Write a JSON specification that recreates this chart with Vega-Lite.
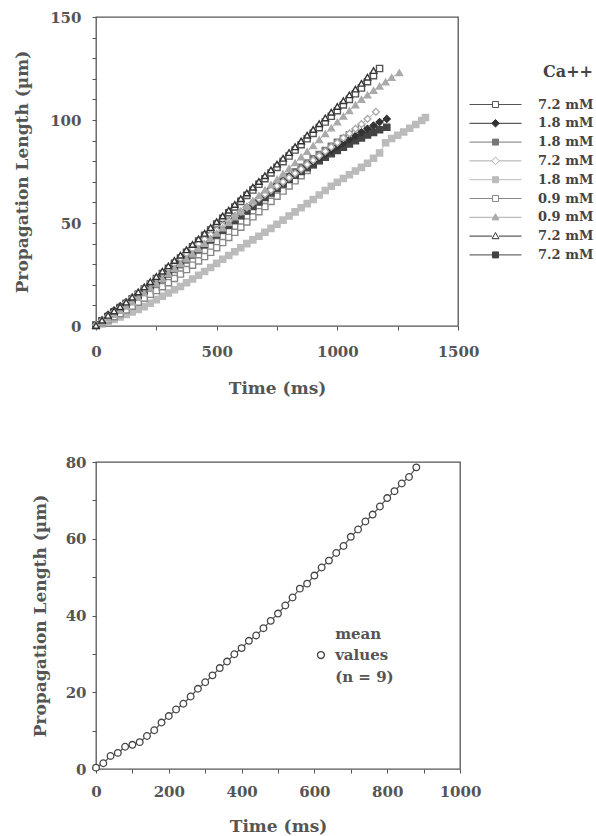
{
  "$schema": "https://vega.github.io/schema/vega-lite/v6.json",
  "background": "white",
  "padding": {"left": 13, "top": 9, "right": 0, "bottom": 0},
  "spacing": 57,
  "config": {
    "view": {"stroke": "#555", "strokeWidth": 1.3},
    "axis": {"domain": false, "grid": false, "tickColor": "#555", "tickWidth": 1, "tickSize": 4,
      "labelFont": "DejaVu Serif", "labelFontWeight": "bold", "labelFontSize": 15, "labelColor": "#555",
      "titleFont": "DejaVu Serif", "titleFontWeight": "bold", "titleFontSize": 17, "titleColor": "#555",
      "labelFlush": false, "labelOverlap": false},
    "legend": {"labelFont": "DejaVu Serif", "labelFontWeight": "bold", "titleFont": "DejaVu Serif", "titleFontWeight": "bold", "padding": 0}
  },
  "datasets": {
    "top": [
      {"s":"s1","t":0,"y":0.5},{"s":"s1","t":25,"y":2.5},{"s":"s1","t":50,"y":4.5},{"s":"s1","t":75,"y":6.8},{"s":"s1","t":100,"y":9.0},{"s":"s1","t":125,"y":11.0},{"s":"s1","t":150,"y":13.2},{"s":"s1","t":175,"y":15.5},{"s":"s1","t":200,"y":18.0},{"s":"s1","t":225,"y":20.4},{"s":"s1","t":250,"y":23.0},{"s":"s1","t":275,"y":25.5},{"s":"s1","t":300,"y":28.0},{"s":"s1","t":325,"y":30.4},{"s":"s1","t":350,"y":33.0},{"s":"s1","t":375,"y":35.8},{"s":"s1","t":400,"y":38.5},{"s":"s1","t":425,"y":41.2},{"s":"s1","t":450,"y":44.0},{"s":"s1","t":475,"y":46.6},{"s":"s1","t":500,"y":49.5},{"s":"s1","t":525,"y":52.3},{"s":"s1","t":550,"y":55.0},{"s":"s1","t":575,"y":57.8},{"s":"s1","t":600,"y":60.5},{"s":"s1","t":625,"y":63.4},{"s":"s1","t":650,"y":66.0},{"s":"s1","t":675,"y":68.8},{"s":"s1","t":700,"y":71.5},{"s":"s1","t":725,"y":74.3},{"s":"s1","t":750,"y":77.0},{"s":"s1","t":775,"y":79.8},{"s":"s1","t":800,"y":82.5},{"s":"s1","t":825,"y":85.4},{"s":"s1","t":850,"y":88.0},{"s":"s1","t":875,"y":90.9},{"s":"s1","t":900,"y":93.5},{"s":"s1","t":925,"y":96.3},{"s":"s1","t":950,"y":99.0},{"s":"s1","t":975,"y":101.8},{"s":"s1","t":1000,"y":104.5},{"s":"s1","t":1025,"y":107.3},{"s":"s1","t":1050,"y":110.0},{"s":"s1","t":1075,"y":112.7},{"s":"s1","t":1100,"y":115.5},{"s":"s1","t":1125,"y":118.6},{"s":"s1","t":1150,"y":121.5},{"s":"s1","t":1175,"y":125.0},
      {"s":"s2","t":0,"y":0.5},{"s":"s2","t":25,"y":3.0},{"s":"s2","t":50,"y":5.5},{"s":"s2","t":75,"y":7.6},{"s":"s2","t":100,"y":9.6},{"s":"s2","t":125,"y":11.6},{"s":"s2","t":150,"y":13.8},{"s":"s2","t":175,"y":16.0},{"s":"s2","t":200,"y":18.3},{"s":"s2","t":225,"y":20.6},{"s":"s2","t":250,"y":23.0},{"s":"s2","t":275,"y":25.4},{"s":"s2","t":300,"y":27.8},{"s":"s2","t":325,"y":30.2},{"s":"s2","t":350,"y":32.6},{"s":"s2","t":375,"y":35.0},{"s":"s2","t":400,"y":37.3},{"s":"s2","t":425,"y":39.6},{"s":"s2","t":450,"y":41.9},{"s":"s2","t":475,"y":44.2},{"s":"s2","t":500,"y":46.5},{"s":"s2","t":525,"y":48.8},{"s":"s2","t":550,"y":51.0},{"s":"s2","t":575,"y":53.2},{"s":"s2","t":600,"y":55.4},{"s":"s2","t":625,"y":57.6},{"s":"s2","t":650,"y":59.8},{"s":"s2","t":675,"y":62.0},{"s":"s2","t":700,"y":64.2},{"s":"s2","t":725,"y":66.4},{"s":"s2","t":750,"y":68.5},{"s":"s2","t":775,"y":70.6},{"s":"s2","t":800,"y":72.6},{"s":"s2","t":825,"y":74.5},{"s":"s2","t":850,"y":76.3},{"s":"s2","t":875,"y":78.0},{"s":"s2","t":900,"y":79.8},{"s":"s2","t":925,"y":81.6},{"s":"s2","t":950,"y":83.4},{"s":"s2","t":975,"y":85.2},{"s":"s2","t":1000,"y":87.0},{"s":"s2","t":1025,"y":88.8},{"s":"s2","t":1050,"y":90.6},{"s":"s2","t":1075,"y":92.3},{"s":"s2","t":1100,"y":94.0},{"s":"s2","t":1125,"y":95.7},{"s":"s2","t":1150,"y":97.3},{"s":"s2","t":1175,"y":99.0},{"s":"s2","t":1205,"y":100.5},
      {"s":"s3","t":0,"y":0.4},{"s":"s3","t":25,"y":2.2},{"s":"s3","t":50,"y":4.0},{"s":"s3","t":75,"y":5.8},{"s":"s3","t":100,"y":7.6},{"s":"s3","t":125,"y":9.6},{"s":"s3","t":150,"y":11.6},{"s":"s3","t":175,"y":13.8},{"s":"s3","t":200,"y":16.0},{"s":"s3","t":225,"y":18.2},{"s":"s3","t":250,"y":20.5},{"s":"s3","t":275,"y":22.8},{"s":"s3","t":300,"y":25.1},{"s":"s3","t":325,"y":27.4},{"s":"s3","t":350,"y":29.7},{"s":"s3","t":375,"y":32.0},{"s":"s3","t":400,"y":34.4},{"s":"s3","t":425,"y":36.8},{"s":"s3","t":450,"y":39.2},{"s":"s3","t":475,"y":41.6},{"s":"s3","t":500,"y":44.0},{"s":"s3","t":525,"y":46.4},{"s":"s3","t":550,"y":48.8},{"s":"s3","t":575,"y":51.2},{"s":"s3","t":600,"y":53.6},{"s":"s3","t":625,"y":56.0},{"s":"s3","t":650,"y":58.4},{"s":"s3","t":675,"y":60.8},{"s":"s3","t":700,"y":63.2},{"s":"s3","t":725,"y":65.6},{"s":"s3","t":750,"y":68.0},{"s":"s3","t":775,"y":70.3},{"s":"s3","t":800,"y":72.6},{"s":"s3","t":825,"y":74.8},{"s":"s3","t":850,"y":77.0},{"s":"s3","t":875,"y":79.1},{"s":"s3","t":900,"y":81.2},{"s":"s3","t":925,"y":83.2},{"s":"s3","t":950,"y":85.2},{"s":"s3","t":975,"y":87.2},{"s":"s3","t":1000,"y":89.2},{"s":"s3","t":1025,"y":91.0},{"s":"s3","t":1050,"y":92.8},{"s":"s3","t":1080,"y":94.6},
      {"s":"s4","t":0,"y":0.5},{"s":"s4","t":25,"y":2.8},{"s":"s4","t":50,"y":4.8},{"s":"s4","t":75,"y":6.9},{"s":"s4","t":100,"y":9.0},{"s":"s4","t":125,"y":11.4},{"s":"s4","t":150,"y":13.8},{"s":"s4","t":175,"y":16.2},{"s":"s4","t":200,"y":18.5},{"s":"s4","t":225,"y":20.9},{"s":"s4","t":250,"y":23.3},{"s":"s4","t":275,"y":25.7},{"s":"s4","t":300,"y":28.0},{"s":"s4","t":325,"y":30.4},{"s":"s4","t":350,"y":32.8},{"s":"s4","t":375,"y":35.2},{"s":"s4","t":400,"y":37.5},{"s":"s4","t":425,"y":39.8},{"s":"s4","t":450,"y":42.1},{"s":"s4","t":475,"y":44.3},{"s":"s4","t":500,"y":46.5},{"s":"s4","t":525,"y":48.8},{"s":"s4","t":550,"y":51.0},{"s":"s4","t":575,"y":53.3},{"s":"s4","t":600,"y":55.5},{"s":"s4","t":625,"y":57.6},{"s":"s4","t":650,"y":59.8},{"s":"s4","t":675,"y":61.9},{"s":"s4","t":700,"y":64.0},{"s":"s4","t":725,"y":66.0},{"s":"s4","t":750,"y":68.0},{"s":"s4","t":775,"y":70.0},{"s":"s4","t":800,"y":72.0},{"s":"s4","t":825,"y":74.1},{"s":"s4","t":850,"y":76.2},{"s":"s4","t":875,"y":78.4},{"s":"s4","t":900,"y":80.5},{"s":"s4","t":925,"y":82.6},{"s":"s4","t":950,"y":84.8},{"s":"s4","t":975,"y":86.9},{"s":"s4","t":1000,"y":89.0},{"s":"s4","t":1025,"y":91.3},{"s":"s4","t":1050,"y":93.5},{"s":"s4","t":1075,"y":95.8},{"s":"s4","t":1100,"y":98.0},{"s":"s4","t":1125,"y":100.5},{"s":"s4","t":1160,"y":104.0},
      {"s":"s5","t":0,"y":0.2},{"s":"s5","t":25,"y":1.0},{"s":"s5","t":50,"y":2.0},{"s":"s5","t":75,"y":3.2},{"s":"s5","t":100,"y":4.4},{"s":"s5","t":125,"y":5.6},{"s":"s5","t":150,"y":6.8},{"s":"s5","t":175,"y":8.0},{"s":"s5","t":200,"y":9.4},{"s":"s5","t":225,"y":11.0},{"s":"s5","t":250,"y":12.8},{"s":"s5","t":275,"y":14.4},{"s":"s5","t":300,"y":16.0},{"s":"s5","t":325,"y":17.6},{"s":"s5","t":350,"y":19.2},{"s":"s5","t":375,"y":21.0},{"s":"s5","t":400,"y":22.8},{"s":"s5","t":425,"y":24.6},{"s":"s5","t":450,"y":26.5},{"s":"s5","t":475,"y":28.4},{"s":"s5","t":500,"y":30.4},{"s":"s5","t":525,"y":32.4},{"s":"s5","t":550,"y":34.2},{"s":"s5","t":575,"y":36.0},{"s":"s5","t":600,"y":38.0},{"s":"s5","t":625,"y":40.0},{"s":"s5","t":650,"y":41.8},{"s":"s5","t":675,"y":43.6},{"s":"s5","t":700,"y":45.5},{"s":"s5","t":725,"y":47.4},{"s":"s5","t":750,"y":49.4},{"s":"s5","t":775,"y":51.4},{"s":"s5","t":800,"y":53.4},{"s":"s5","t":825,"y":55.4},{"s":"s5","t":850,"y":57.4},{"s":"s5","t":875,"y":59.4},{"s":"s5","t":900,"y":61.4},{"s":"s5","t":925,"y":63.6},{"s":"s5","t":950,"y":65.8},{"s":"s5","t":975,"y":67.8},{"s":"s5","t":1000,"y":69.8},{"s":"s5","t":1025,"y":71.6},{"s":"s5","t":1050,"y":73.4},{"s":"s5","t":1075,"y":75.2},{"s":"s5","t":1100,"y":77.0},{"s":"s5","t":1125,"y":79.0},{"s":"s5","t":1150,"y":81.4},{"s":"s5","t":1175,"y":84.0},{"s":"s5","t":1200,"y":89.0},{"s":"s5","t":1225,"y":91.0},{"s":"s5","t":1250,"y":92.6},{"s":"s5","t":1275,"y":94.2},{"s":"s5","t":1300,"y":96.0},{"s":"s5","t":1325,"y":97.8},{"s":"s5","t":1350,"y":99.8},{"s":"s5","t":1365,"y":101.2},
      {"s":"s6","t":0,"y":0.2},{"s":"s6","t":25,"y":1.6},{"s":"s6","t":50,"y":3.0},{"s":"s6","t":75,"y":4.5},{"s":"s6","t":100,"y":6.0},{"s":"s6","t":125,"y":7.8},{"s":"s6","t":150,"y":9.6},{"s":"s6","t":175,"y":11.6},{"s":"s6","t":200,"y":13.5},{"s":"s6","t":225,"y":15.4},{"s":"s6","t":250,"y":17.2},{"s":"s6","t":275,"y":19.1},{"s":"s6","t":300,"y":21.0},{"s":"s6","t":325,"y":23.1},{"s":"s6","t":350,"y":25.2},{"s":"s6","t":375,"y":27.4},{"s":"s6","t":400,"y":29.5},{"s":"s6","t":425,"y":31.6},{"s":"s6","t":450,"y":33.7},{"s":"s6","t":475,"y":35.8},{"s":"s6","t":500,"y":38.0},{"s":"s6","t":525,"y":40.5},{"s":"s6","t":550,"y":43.0},{"s":"s6","t":575,"y":45.5},{"s":"s6","t":600,"y":48.0},{"s":"s6","t":625,"y":50.5},{"s":"s6","t":650,"y":53.0},{"s":"s6","t":675,"y":55.5},{"s":"s6","t":700,"y":58.0},{"s":"s6","t":725,"y":60.5},{"s":"s6","t":750,"y":63.0},{"s":"s6","t":775,"y":65.5},{"s":"s6","t":800,"y":68.0},{"s":"s6","t":825,"y":70.5},{"s":"s6","t":850,"y":73.0},{"s":"s6","t":875,"y":75.5},{"s":"s6","t":900,"y":78.0},{"s":"s6","t":925,"y":80.4},{"s":"s6","t":950,"y":82.8},{"s":"s6","t":975,"y":85.2},{"s":"s6","t":1000,"y":87.5},{"s":"s6","t":1025,"y":89.8},{"s":"s6","t":1050,"y":92.0},{"s":"s6","t":1075,"y":94.3},{"s":"s6","t":1100,"y":96.5},
      {"s":"s7","t":0,"y":0.2},{"s":"s7","t":25,"y":2.0},{"s":"s7","t":50,"y":3.8},{"s":"s7","t":75,"y":5.6},{"s":"s7","t":100,"y":7.5},{"s":"s7","t":125,"y":9.6},{"s":"s7","t":150,"y":11.7},{"s":"s7","t":175,"y":13.8},{"s":"s7","t":200,"y":16.0},{"s":"s7","t":225,"y":18.4},{"s":"s7","t":250,"y":20.8},{"s":"s7","t":275,"y":23.1},{"s":"s7","t":300,"y":25.5},{"s":"s7","t":325,"y":27.9},{"s":"s7","t":350,"y":30.3},{"s":"s7","t":375,"y":32.6},{"s":"s7","t":400,"y":35.0},{"s":"s7","t":425,"y":37.5},{"s":"s7","t":450,"y":40.0},{"s":"s7","t":475,"y":42.5},{"s":"s7","t":500,"y":45.0},{"s":"s7","t":525,"y":47.6},{"s":"s7","t":550,"y":50.2},{"s":"s7","t":575,"y":52.9},{"s":"s7","t":600,"y":55.5},{"s":"s7","t":625,"y":58.1},{"s":"s7","t":650,"y":60.7},{"s":"s7","t":675,"y":63.4},{"s":"s7","t":700,"y":66.0},{"s":"s7","t":725,"y":68.6},{"s":"s7","t":750,"y":71.2},{"s":"s7","t":775,"y":73.9},{"s":"s7","t":800,"y":76.5},{"s":"s7","t":825,"y":79.2},{"s":"s7","t":850,"y":82.0},{"s":"s7","t":875,"y":84.7},{"s":"s7","t":900,"y":87.5},{"s":"s7","t":925,"y":90.4},{"s":"s7","t":950,"y":93.3},{"s":"s7","t":975,"y":96.1},{"s":"s7","t":1000,"y":99.0},{"s":"s7","t":1025,"y":101.8},{"s":"s7","t":1050,"y":104.5},{"s":"s7","t":1075,"y":107.3},{"s":"s7","t":1100,"y":110.0},{"s":"s7","t":1125,"y":112.1},{"s":"s7","t":1150,"y":114.3},{"s":"s7","t":1175,"y":116.4},{"s":"s7","t":1200,"y":118.5},{"s":"s7","t":1225,"y":120.6},{"s":"s7","t":1257,"y":123.0},
      {"s":"s8","t":0,"y":0.3},{"s":"s8","t":25,"y":2.8},{"s":"s8","t":50,"y":5.2},{"s":"s8","t":75,"y":7.3},{"s":"s8","t":100,"y":9.4},{"s":"s8","t":125,"y":11.6},{"s":"s8","t":150,"y":14.0},{"s":"s8","t":175,"y":16.5},{"s":"s8","t":200,"y":19.0},{"s":"s8","t":225,"y":21.5},{"s":"s8","t":250,"y":24.0},{"s":"s8","t":275,"y":26.6},{"s":"s8","t":300,"y":29.2},{"s":"s8","t":325,"y":31.8},{"s":"s8","t":350,"y":34.4},{"s":"s8","t":375,"y":37.0},{"s":"s8","t":400,"y":39.6},{"s":"s8","t":425,"y":42.3},{"s":"s8","t":450,"y":45.0},{"s":"s8","t":475,"y":47.8},{"s":"s8","t":500,"y":50.6},{"s":"s8","t":525,"y":53.4},{"s":"s8","t":550,"y":56.2},{"s":"s8","t":575,"y":59.0},{"s":"s8","t":600,"y":61.8},{"s":"s8","t":625,"y":64.6},{"s":"s8","t":650,"y":67.4},{"s":"s8","t":675,"y":70.2},{"s":"s8","t":700,"y":73.0},{"s":"s8","t":725,"y":75.8},{"s":"s8","t":750,"y":78.6},{"s":"s8","t":775,"y":81.4},{"s":"s8","t":800,"y":84.2},{"s":"s8","t":825,"y":87.0},{"s":"s8","t":850,"y":89.8},{"s":"s8","t":875,"y":92.6},{"s":"s8","t":900,"y":95.4},{"s":"s8","t":925,"y":98.2},{"s":"s8","t":950,"y":101.0},{"s":"s8","t":975,"y":103.8},{"s":"s8","t":1000,"y":106.6},{"s":"s8","t":1025,"y":109.4},{"s":"s8","t":1050,"y":112.2},{"s":"s8","t":1075,"y":115.0},{"s":"s8","t":1100,"y":117.8},{"s":"s8","t":1125,"y":120.8},{"s":"s8","t":1150,"y":124.0},
      {"s":"s9","t":0,"y":0.3},{"s":"s9","t":25,"y":2.4},{"s":"s9","t":50,"y":4.6},{"s":"s9","t":75,"y":6.6},{"s":"s9","t":100,"y":8.6},{"s":"s9","t":125,"y":10.6},{"s":"s9","t":150,"y":12.6},{"s":"s9","t":175,"y":14.8},{"s":"s9","t":200,"y":17.0},{"s":"s9","t":225,"y":19.2},{"s":"s9","t":250,"y":21.4},{"s":"s9","t":275,"y":23.6},{"s":"s9","t":300,"y":25.9},{"s":"s9","t":325,"y":28.2},{"s":"s9","t":350,"y":30.5},{"s":"s9","t":375,"y":32.8},{"s":"s9","t":400,"y":35.1},{"s":"s9","t":425,"y":37.4},{"s":"s9","t":450,"y":39.7},{"s":"s9","t":475,"y":42.0},{"s":"s9","t":500,"y":44.3},{"s":"s9","t":525,"y":46.6},{"s":"s9","t":550,"y":48.9},{"s":"s9","t":575,"y":51.2},{"s":"s9","t":600,"y":53.5},{"s":"s9","t":625,"y":55.8},{"s":"s9","t":650,"y":58.0},{"s":"s9","t":675,"y":60.2},{"s":"s9","t":700,"y":62.4},{"s":"s9","t":725,"y":64.6},{"s":"s9","t":750,"y":66.8},{"s":"s9","t":775,"y":69.0},{"s":"s9","t":800,"y":71.2},{"s":"s9","t":825,"y":73.2},{"s":"s9","t":850,"y":75.0},{"s":"s9","t":875,"y":76.8},{"s":"s9","t":900,"y":78.5},{"s":"s9","t":925,"y":80.2},{"s":"s9","t":950,"y":81.9},{"s":"s9","t":975,"y":83.6},{"s":"s9","t":1000,"y":85.2},{"s":"s9","t":1025,"y":86.8},{"s":"s9","t":1050,"y":88.4},{"s":"s9","t":1075,"y":89.9},{"s":"s9","t":1100,"y":91.3},{"s":"s9","t":1125,"y":92.7},{"s":"s9","t":1150,"y":94.0},{"s":"s9","t":1175,"y":95.3},{"s":"s9","t":1205,"y":96.5}
    ],
    "mean": [
      {"t":0,"y":0.35},{"t":20,"y":1.5},{"t":40,"y":3.4},{"t":60,"y":4.2},{"t":80,"y":5.8},{"t":100,"y":6.3},{"t":120,"y":7.0},{"t":140,"y":8.6},{"t":160,"y":10.1},{"t":180,"y":12.1},{"t":200,"y":13.8},{"t":220,"y":15.5},{"t":240,"y":17.0},{"t":260,"y":18.9},{"t":280,"y":20.9},{"t":300,"y":22.6},{"t":320,"y":24.4},{"t":340,"y":26.3},{"t":360,"y":28.0},{"t":380,"y":29.9},{"t":400,"y":31.5},{"t":420,"y":33.4},{"t":440,"y":34.8},{"t":460,"y":36.7},{"t":480,"y":38.6},{"t":500,"y":40.5},{"t":520,"y":42.6},{"t":540,"y":44.7},{"t":560,"y":47.0},{"t":580,"y":48.3},{"t":600,"y":50.4},{"t":620,"y":52.5},{"t":640,"y":54.3},{"t":660,"y":56.3},{"t":680,"y":58.1},{"t":700,"y":60.5},{"t":720,"y":62.4},{"t":740,"y":64.5},{"t":760,"y":66.3},{"t":780,"y":68.4},{"t":800,"y":70.6},{"t":820,"y":72.4},{"t":840,"y":74.4},{"t":860,"y":76.1},{"t":880,"y":78.6}
    ],
    "keyMark": [{"t": 618, "y": 29.7}],
    "keyText": [
      {"t": 657, "y": 35.3, "txt": "mean"},
      {"t": 657, "y": 29.7, "txt": "values"},
      {"t": 657, "y": 24.1, "txt": "(n = 9)"}
    ]
  },
  "vconcat": [
    {
      "width": 362,
      "height": 309,
      "data": {"name": "top"},
      "encoding": {
        "x": {"field": "t", "type": "quantitative", "title": "Time (ms)",
          "scale": {"domain": [0, 1500], "nice": false},
          "axis": {"values": [0,250,500,750,1000,1250,1500], "labelExpr": "datum.value % 500 == 0 ? format(datum.value, 'd') : ''", "labelPadding": 14, "titlePadding": 21}},
        "y": {"field": "y", "type": "quantitative", "title": "Propagation Length (µm)",
          "scale": {"domain": [0, 150], "nice": false},
          "axis": {"values": [0,10,20,30,40,50,60,70,80,90,100,110,120,130,140,150], "labelExpr": "datum.value % 50 == 0 ? datum.label : ''", "labelPadding": 11, "titlePadding": 18}}
      },
      "layer": [
        {
          "mark": {"type": "line", "strokeWidth": 1},
          "encoding": {
            "color": {"field": "s", "type": "nominal",
              "scale": {"domain": ["s1","s2","s3","s4","s5","s6","s7","s8","s9"], "range": ["#555","#333","#777","#aaa","#bbb","#888","#aaa","#333","#444"]},
              "legend": {
                "orient": "none", "legendX": 393, "legendY": 47,
                "title": "Ca++", "titleFontSize": 16, "titleColor": "#444", "titleAnchor": "end", "titlePadding": 18,
                "labelFontSize": 13, "labelColor": "#444", "labelOffset": 36, "rowPadding": 4.8, "symbolSize": 64,
                "symbolStrokeWidth": 1, "symbolOpacity": 1,
                "labelExpr": "indexof(['s1','s4','s8','s9'], datum.value) >= 0 ? '7.2 mM' : indexof(['s2','s3','s5'], datum.value) >= 0 ? '1.8 mM' : '0.9 mM'"
              }
            }
          }
        },
        {
          "transform": [{"filter": {"field": "s", "oneOf": ["s1","s3","s5","s6","s9"]}}],
          "mark": {"type": "point", "shape": "square", "size": 38, "strokeWidth": 1.4, "opacity": 1},
          "encoding": {
            "color": {"field": "s", "type": "nominal"},
            "fill": {"field": "s", "type": "nominal", "legend": null,
              "scale": {"domain": ["s1","s2","s3","s4","s5","s6","s7","s8","s9"], "range": ["white","#333","#777","white","#bbb","white","#aaa","white","#444"]}}
          }
        },
        {
          "transform": [{"filter": {"field": "s", "oneOf": ["s2","s4"]}}],
          "mark": {"type": "point", "shape": "diamond", "size": 46, "strokeWidth": 1.4, "opacity": 1},
          "encoding": {
            "color": {"field": "s", "type": "nominal"},
            "fill": {"field": "s", "type": "nominal", "legend": null}
          }
        },
        {
          "transform": [{"filter": {"field": "s", "oneOf": ["s7","s8"]}}],
          "mark": {"type": "point", "shape": "triangle-up", "size": 42, "strokeWidth": 1.4, "opacity": 1},
          "encoding": {
            "color": {"field": "s", "type": "nominal"},
            "fill": {"field": "s", "type": "nominal", "legend": null}
          }
        },
        {
          "mark": {"type": "point", "opacity": 0},
          "encoding": {
            "color": {"field": "s", "type": "nominal"},
            "fill": {"field": "s", "type": "nominal", "legend": null},
            "shape": {"field": "s", "type": "nominal",
              "scale": {"domain": ["s1","s2","s3","s4","s5","s6","s7","s8","s9"],
                "range": [
                  "M-6.5,0H-0.75M0.75,0H6.5M-0.75,-0.75H0.75V0.75H-0.75Z",
                  "M-6.5,0H6.5M0,-0.95L0.95,0L0,0.95L-0.95,0Z",
                  "M-6.5,0H6.5M-0.75,-0.75H0.75V0.75H-0.75Z",
                  "M-6.5,0H-0.95M0.95,0H6.5M0,-0.95L0.95,0L0,0.95L-0.95,0Z",
                  "M-6.5,0H6.5M-0.75,-0.75H0.75V0.75H-0.75Z",
                  "M-6.5,0H-0.75M0.75,0H6.5M-0.75,-0.75H0.75V0.75H-0.75Z",
                  "M-6.5,0H6.5M0,-0.9L0.85,0.65H-0.85Z",
                  "M-6.5,0H-0.85M0.85,0H6.5M0,-0.9L0.85,0.65H-0.85Z",
                  "M-6.5,0H6.5M-0.75,-0.75H0.75V0.75H-0.75Z"
                ]},
              "legend": {
                "orient": "none", "legendX": 393, "legendY": 47,
                "title": "Ca++", "titleFontSize": 16, "titleColor": "#444", "titleAnchor": "end", "titlePadding": 18,
                "labelFontSize": 13, "labelColor": "#444", "labelOffset": 36, "rowPadding": 4.8, "symbolSize": 64,
                "symbolStrokeWidth": 1, "symbolOpacity": 1,
                "labelExpr": "indexof(['s1','s4','s8','s9'], datum.value) >= 0 ? '7.2 mM' : indexof(['s2','s3','s5'], datum.value) >= 0 ? '1.8 mM' : '0.9 mM'"
              }}
          }
        }
      ]
    },
    {
      "width": 364,
      "height": 307,
      "encoding": {
        "x": {"field": "t", "type": "quantitative", "title": "Time (ms)",
          "scale": {"domain": [0, 1000], "nice": false},
          "axis": {"values": [0,100,200,300,400,500,600,700,800,900,1000], "labelExpr": "datum.value % 200 == 0 ? format(datum.value, 'd') : ''", "labelPadding": 11, "titlePadding": 19}},
        "y": {"field": "y", "type": "quantitative", "title": "Propagation Length (µm)",
          "scale": {"domain": [0, 80], "nice": false},
          "axis": {"values": [0,10,20,30,40,50,60,70,80], "labelExpr": "datum.value % 20 == 0 ? datum.label : ''", "labelPadding": 6, "titlePadding": 16}}
      },
      "layer": [
        {"data": {"name": "mean"}, "mark": {"type": "line", "stroke": "#555", "strokeWidth": 1.2}, "encoding": {}},
        {"data": {"name": "mean"}, "mark": {"type": "point", "shape": "circle", "filled": false, "fill": "white", "stroke": "#444", "strokeWidth": 1.3, "size": 44, "opacity": 1}},
        {"data": {"name": "keyMark"}, "mark": {"type": "point", "shape": "circle", "filled": false, "fill": "white", "stroke": "#444", "strokeWidth": 1.3, "size": 48, "opacity": 1}},
        {"data": {"name": "keyText"}, "mark": {"type": "text", "align": "left", "baseline": "middle", "font": "DejaVu Serif", "fontWeight": "bold", "fontSize": 15, "color": "#555"},
          "encoding": {"text": {"field": "txt", "type": "nominal"}}}
      ]
    }
  ]
}
